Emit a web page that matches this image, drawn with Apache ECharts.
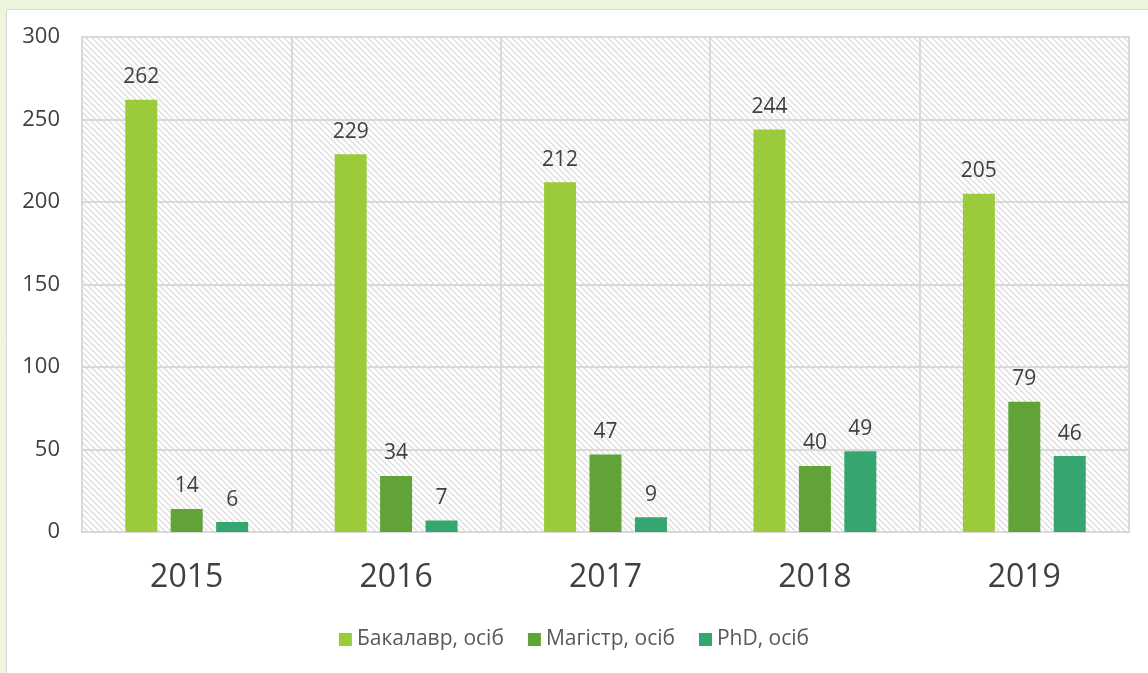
<!DOCTYPE html>
<html>
<head>
<meta charset="utf-8">
<title>Випускники</title>
<script src="https://cdn.jsdelivr.net/npm/echarts@6/dist/echarts.min.js"></script>
<style>
  html, body { margin: 0; padding: 0; background: #eef5dd; }
  #chart { width: 1148px; height: 673px; }
</style>
</head>
<body>
<div id="chart"></div>
<script>
    // дані
    const years = ['2015', '2016', '2017', '2018', '2019'];
    const bachelor = [262, 229, 212, 244, 205];
    const master = [14, 34, 47, 40, 79];
    const phd = [6, 7, 9, 49, 46];
    const seriesNames = ['Бакалавр, осіб', 'Магістр, осіб', 'PhD, осіб'];
    const colors = ['#9BCB3B', '#62A338', '#35A66F'];

    // штрихування фону
    const hatch = document.createElement('canvas');
    hatch.width = 6;
    hatch.height = 6;
    const hc = hatch.getContext('2d');
    hc.fillStyle = '#ffffff';
    hc.fillRect(0, 0, 6, 6);
    hc.strokeStyle = '#dcdcdc';
    hc.lineWidth = 1.3;
    for (let k = -6; k <= 6; k += 6) {
        hc.beginPath();
        hc.moveTo(k, 0);
        hc.lineTo(k + 6, 6);
        hc.stroke();
    }

    const font = '"Open Sans", "Noto Sans", sans-serif';
    const chart = echarts.init(document.getElementById('chart'));

    const makeSeries = (name, data, color) => ({
        name: name,
        type: 'bar',
        data: data,
        barWidth: 32,
        barGap: '42%',
        itemStyle: { color: color },
        label: {
            show: true,
            position: 'top',
            distance: 12,
            fontSize: 21,
            color: '#404040',
            fontFamily: font
        }
    });

    const option = {
        backgroundColor: '#eef5dd',
        animation: false,
        graphic: [{
            type: 'rect',
            shape: { x: 6.5, y: 9.5, width: 1160, height: 700 },
            style: { fill: '#ffffff', stroke: '#d9d9d9', lineWidth: 1 },
            z: -10
        }],
        grid: {
            left: 82,
            right: 19,
            top: 37,
            bottom: 141,
            show: true,
            backgroundColor: { image: hatch, repeat: 'repeat' },
            borderColor: '#d9d9d9',
            borderWidth: 2
        },
        legend: {
            data: seriesNames,
            bottom: 18,
            left: 'center',
            itemWidth: 13,
            itemHeight: 13,
            itemGap: 24,
            icon: 'rect',
            textStyle: { fontSize: 21, color: '#595959', fontFamily: font }
        },
        xAxis: {
            type: 'category',
            data: years,
            axisLine: { show: true, lineStyle: { color: '#d9d9d9', width: 2 } },
            axisTick: { show: false },
            splitLine: { show: true, lineStyle: { color: '#d9d9d9', width: 2 } },
            axisLabel: { fontSize: 32, color: '#404040', margin: 30, fontFamily: font }
        },
        yAxis: {
            type: 'value',
            min: 0,
            max: 300,
            interval: 50,
            axisLine: { show: false },
            axisTick: { show: false },
            splitLine: { lineStyle: { color: '#d9d9d9', width: 2 } },
            axisLabel: { fontSize: 22, color: '#404040', margin: 22, fontFamily: font }
        },
        series: [
            makeSeries(seriesNames[0], bachelor, colors[0]),
            makeSeries(seriesNames[1], master, colors[1]),
            makeSeries(seriesNames[2], phd, colors[2])
        ]
    };

    chart.setOption(option);
</script>
</body>
</html>
